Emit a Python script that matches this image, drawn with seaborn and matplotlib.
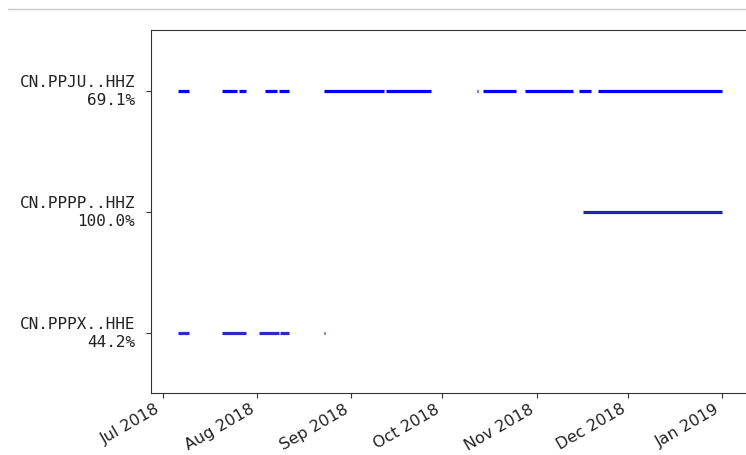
import numpy as np
import pandas as pd
import seaborn as sns
import matplotlib.pyplot as plt
import matplotlib.dates as mdates
from matplotlib.lines import Line2D

# availability segments (start, end)
ppju_start = ["2018-07-06 00:00", "2018-07-20 12:00", "2018-07-26 00:00", "2018-08-03 14:00",
              "2018-08-08 05:00", "2018-08-23 00:00", "2018-09-12 12:00", "2018-10-12 06:00",
              "2018-10-14 07:00", "2018-10-28 03:00", "2018-11-15 00:00", "2018-11-21 05:00"]
ppju_end = ["2018-07-09 14:00", "2018-07-25 10:00", "2018-07-28 10:00", "2018-08-07 14:00",
            "2018-08-11 12:00", "2018-09-11 19:00", "2018-09-27 07:00", "2018-10-12 14:00",
            "2018-10-25 05:00", "2018-11-12 22:00", "2018-11-19 00:00", "2018-12-31 22:00"]
pppp_start = ["2018-11-16 08:00"]
pppp_end = ["2018-12-31 22:00"]
pppx_start = ["2018-07-06 00:00", "2018-07-20 12:00", "2018-08-01 17:00", "2018-08-08 14:00",
              "2018-08-23 00:00"]
pppx_end = ["2018-07-09 14:00", "2018-07-28 10:00", "2018-08-08 05:00", "2018-08-11 12:00",
            "2018-08-23 08:00"]

stations = ["CN.PPPX..HHE", "CN.PPPP..HHZ", "CN.PPJU..HHZ"]
percent = ["44.2%", "100.0%", "69.1%"]
colors = {"CN.PPJU..HHZ": "#0000ff", "CN.PPPP..HHZ": "#2222b0", "CN.PPPX..HHE": "#2a2ac4"}

rows = []
seg = 0
for pos, (name, starts, ends) in enumerate([("CN.PPPX..HHE", pppx_start, pppx_end),
                                            ("CN.PPPP..HHZ", pppp_start, pppp_end),
                                            ("CN.PPJU..HHZ", ppju_start, ppju_end)]):
    for s, e in zip(starts, ends):
        rows.append({"station": name, "seg": seg, "time": pd.Timestamp(s), "pos": pos})
        rows.append({"station": name, "seg": seg, "time": pd.Timestamp(e), "pos": pos})
        seg += 1
df = pd.DataFrame(rows)

sns.set_style("ticks")
plt.rcParams["font.family"] = ["DejaVu Sans"]

fig = plt.figure(figsize=(7.46, 4.56), dpi=100)
ax = fig.add_axes([151 / 746, 62 / 456, 632 / 746, 363 / 456])

sns.lineplot(data=df, x="time", y="pos", hue="station", units="seg", estimator=None,
             palette=colors, linewidth=2.3, legend=False, ax=ax, solid_capstyle="butt")

jul1 = pd.Timestamp("2018-07-01")
ax.set_xlim(jul1 - pd.Timedelta(days=3.88), jul1 + pd.Timedelta(days=204))
ax.set_ylim(-0.5, 2.5)
ax.set_yticks(range(len(stations)))
ax.set_yticklabels([f"{s}\n{p}" for s, p in zip(stations, percent)],
                   family="DejaVu Sans Mono", fontsize=11.5, color="#222222",
                   linespacing=1.25, va="center")
ax.xaxis.set_major_locator(mdates.MonthLocator())
ax.xaxis.set_major_formatter(mdates.DateFormatter("%b %Y"))
for lab in ax.get_xticklabels():
    lab.set_rotation(30)
    lab.set_ha("right")
    lab.set_fontsize(11.5)
    lab.set_color("#222222")
ax.set_xlabel("")
ax.set_ylabel("")
for sp in ax.spines.values():
    sp.set_visible(True)
    sp.set_color("#333333")
ax.spines["right"].set_visible(False)
ax.tick_params(colors="#333333", labelcolor="#222222")
ax.tick_params(axis="y", pad=8)
ax.tick_params(axis="x", pad=2)

fig.add_artist(Line2D([8 / 746, 1], [1 - 10 / 456] * 2, color="#c8c8c8", lw=1,
                      transform=fig.transFigure))

fig.savefig("out.png", dpi=100)
